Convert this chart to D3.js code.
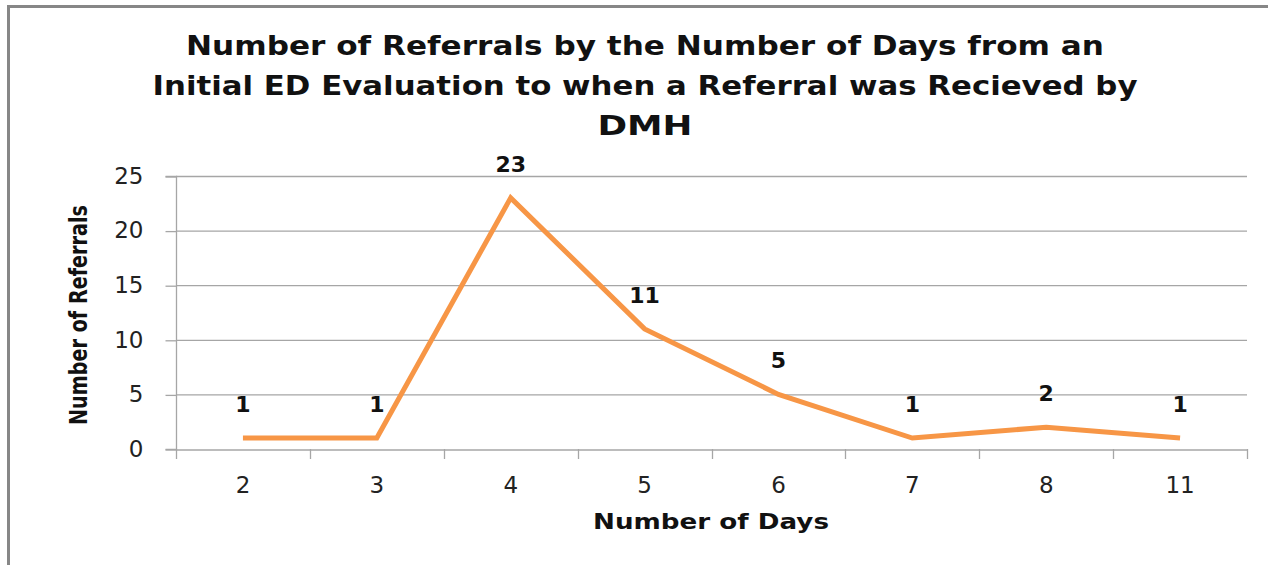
<!DOCTYPE html>
<html><head><meta charset="utf-8">
<script src="https://cdn.jsdelivr.net/npm/d3@7"></script>
<style>body{margin:0;background:#fff;} svg{display:block;}</style>
</head><body>
<svg id="c" width="1268" height="565"></svg>
<script>
const categories = ["2","3","4","5","6","7","8","11"];
const referrals = [1,1,23,11,5,1,2,1];
const yTicks = [0,5,10,15,20,25];
const titleLines = ["Number of Referrals by the Number of Days from an","Initial ED Evaluation to when a Referral was Recieved by","DMH"];

const svg = d3.select("#c");
const W = 1268, H = 565;
const m = {left:176, right:1247, top:176, bottom:449};

// outer border
svg.append("path").attr("d", `M8.5,${H} L8.5,6.5 L${W},6.5`).attr("fill","none").attr("stroke","#878787").attr("stroke-width",3);

const x = d3.scaleBand().domain(categories).range([m.left, m.right]).padding(0);
const y = d3.scaleLinear().domain([0,25]).range([m.bottom, m.top]);

// gridlines
svg.append("g").selectAll("line").data(yTicks.slice(1)).join("line")
  .attr("x1", m.left).attr("x2", m.right)
  .attr("y1", d=>y(d)+0.5).attr("y2", d=>y(d)+0.5)
  .attr("stroke","#a6a6a6").attr("stroke-width",1.3);

// y axis
const yAxis = svg.append("g").attr("transform",`translate(${m.left+0.5},0)`)
  .call(d3.axisLeft(y).tickValues(yTicks).tickSize(11).tickPadding(22));
yAxis.select(".domain").attr("stroke","#a6a6a6").attr("stroke-width",1.3).attr("d",`M-11,${y(0)+0.5}H0V${y(25)+0.5}H-11`);
yAxis.selectAll(".tick line").attr("stroke","#a6a6a6").attr("stroke-width",1.3).attr("transform","translate(0,0.5)");
yAxis.selectAll(".tick text").attr("font-family","DejaVu Sans, sans-serif").attr("font-size",23).attr("fill","#222");

// x axis
const xAxis = svg.append("g").attr("transform",`translate(0,${m.bottom+0.5})`)
  .call(d3.axisBottom(x).tickSize(0).tickPadding(27));
xAxis.select(".domain").attr("stroke","#a6a6a6").attr("stroke-width",1.3);
xAxis.selectAll(".tick text").attr("font-family","DejaVu Sans, sans-serif").attr("font-size",23).attr("fill","#222");
// category boundary ticks
const bounds = categories.map(c=>x(c)).concat([x(categories[categories.length-1])+x.bandwidth()]);
svg.append("g").selectAll("line").data(bounds).join("line")
  .attr("x1",d=>Math.round(d)+0.5).attr("x2",d=>Math.round(d)+0.5)
  .attr("y1",m.bottom).attr("y2",m.bottom+10)
  .attr("stroke","#a6a6a6").attr("stroke-width",1.3);

// line
const cx = d => x(d) + x.bandwidth()/2;
svg.append("path").datum(categories.map((c,i)=>[c,referrals[i]]))
  .attr("d", d3.line().x(d=>cx(d[0])).y(d=>y(d[1])))
  .attr("fill","none").attr("stroke","#f79646").attr("stroke-width",5).attr("stroke-linejoin","miter");

// data labels
svg.append("g").selectAll("text").data(categories.map((c,i)=>[c,referrals[i]])).join("text")
  .attr("x",d=>cx(d[0])).attr("y",d=>y(d[1])-26)
  .attr("text-anchor","middle").attr("font-family","DejaVu Sans, sans-serif").attr("font-weight","bold")
  .attr("font-size",22).attr("fill","#111").text(d=>d[1]);

// title
const tl = [918, 985, 95];
svg.append("g").selectAll("text").data(titleLines).join("text")
  .attr("x",645).attr("y",(d,i)=>55+i*40)
  .attr("text-anchor","middle").attr("font-family","DejaVu Sans, sans-serif").attr("font-weight","bold")
  .attr("font-size",27).attr("fill","#111")
  .attr("textLength",(d,i)=>tl[i]).attr("lengthAdjust","spacingAndGlyphs")
  .text(d=>d);

// axis titles
svg.append("text").attr("x",711).attr("y",529).attr("text-anchor","middle")
  .attr("font-family","DejaVu Sans, sans-serif").attr("font-weight","bold").attr("font-size",21).attr("fill","#111")
  .attr("textLength",236).attr("lengthAdjust","spacingAndGlyphs").text("Number of Days");
svg.append("text").attr("transform","translate(87,315) rotate(-90)").attr("text-anchor","middle")
  .attr("font-family","DejaVu Sans, sans-serif").attr("font-weight","bold").attr("font-size",25).attr("fill","#111")
  .attr("textLength",220).attr("lengthAdjust","spacingAndGlyphs").text("Number of Referrals");
</script>
</body></html>
